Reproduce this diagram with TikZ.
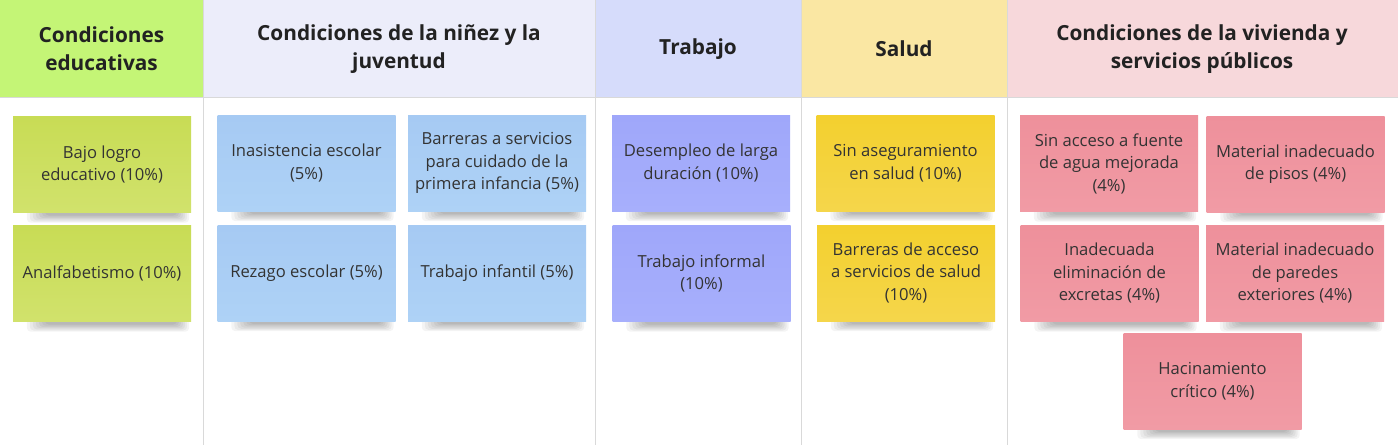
\documentclass[tikz,border=0pt]{standalone}
\usepackage{fontspec}
\setmainfont{Open Sans}
\usetikzlibrary{positioning}
\definecolor{hdrA}{HTML}{C4F576}
\definecolor{hdrB}{HTML}{ECEDFA}
\definecolor{hdrC}{HTML}{D6DCFB}
\definecolor{hdrD}{HTML}{FAE7A3}
\definecolor{hdrE}{HTML}{F7D8DB}
\definecolor{gridc}{HTML}{D9D9D9}
\definecolor{txtc}{HTML}{333333}
\definecolor{hdrtxt}{HTML}{222222}
\definecolor{gTop}{HTML}{C8DC55}\definecolor{gBot}{HTML}{D1E26C}
\definecolor{bTop}{HTML}{A6CAF3}\definecolor{bBot}{HTML}{AED2F6}
\definecolor{pTop}{HTML}{9FA7FA}\definecolor{pBot}{HTML}{A7AFFC}
\definecolor{yTop}{HTML}{F3D02E}\definecolor{yBot}{HTML}{F5D64B}
\definecolor{rTop}{HTML}{EE909B}\definecolor{rBot}{HTML}{F19BA5}
\pgfdeclarelayer{shadowlayer}
\pgfdeclarelayer{bg}
\pgfsetlayers{bg,shadowlayer,main}
\tikzset{
  note/.style={rectangle, minimum width=178pt, minimum height=96pt, inner sep=0pt,
    align=center, text=txtc, font=\fontsize{16.6}{22.5}\selectfont},
  gnote/.style={note, top color=gTop, bottom color=gBot},
  bnote/.style={note, top color=bTop, bottom color=bBot},
  pnote/.style={note, top color=pTop, bottom color=pBot},
  ynote/.style={note, top color=yTop, bottom color=yBot},
  rnote/.style={note, top color=rTop, bottom color=rBot},
  hdr/.style={align=center, text=hdrtxt, font=\fontsize{20.8}{28}\selectfont\bfseries},
  gridline/.style={draw=gridc, line width=1pt}
}
\begin{document}
\begin{tikzpicture}[x=1pt,y=-1pt]
\useasboundingbox (0,0) rectangle (1398,445);
\begin{pgfonlayer}{bg}
\fill[white] (0,0) rectangle (1398,445);
\fill[hdrA] (0,0) rectangle (203,97);
\fill[hdrB] (203,0) rectangle (595,97);
\fill[hdrC] (595,0) rectangle (801,97);
\fill[hdrD] (801,0) rectangle (1007,97);
\fill[hdrE] (1007,0) rectangle (1398,97);
\draw[gridline] (0,97.5) -- (1398,97.5);
\foreach \gx in {203,595,801,1007} \draw[gridline] (\gx,0) -- (\gx,445);
\end{pgfonlayer}

% headers
\node[hdr] (h1) at (101.5,49) {Condiciones\\educativas};
\node[hdr] (h2) at (399,49) {Condiciones de la niñez y la\\juventud};
\node[hdr] (h3) at (698,49) {Trabajo};
\node[hdr] (h4) at (904,49) {Salud};
\node[hdr] (h5) at (1202,49) {Condiciones de la vivienda y\\servicios públicos};

% notes
\node[gnote] (n1) at (102,164.5) {Bajo logro\\educativo (10\%)};
\node[gnote] (n2) at (102,273.5) {Analfabetismo (10\%)};
\node[bnote] (n3) at (306.5,163) {Inasistencia escolar\\(5\%)};
\node[bnote] (n4) at (497,163) {Barreras a servicios\\para cuidado de la\\primera infancia (5\%)};
\node[bnote] (n5) at (306.5,273) {Rezago escolar (5\%)};
\node[bnote] (n6) at (497,273) {Trabajo infantil (5\%)};
\node[pnote] (n7) at (701,163) {Desempleo de larga\\duración (10\%)};
\node[pnote] (n8) at (701.5,273.5) {Trabajo informal\\(10\%)};
\node[ynote] (n9) at (905.5,163) {Sin aseguramiento\\en salud (10\%)};
\node[ynote] (n10) at (906,273) {Barreras de acceso\\a servicios de salud\\(10\%)};
\node[rnote] (n11) at (1109,163.5) {Sin acceso a fuente\\de agua mejorada\\(4\%)};
\node[rnote] (n12) at (1295.5,164) {Material inadecuado\\de pisos (4\%)};
\node[rnote] (n13) at (1109.5,273.5) {Inadecuada\\eliminación de\\excretas (4\%)};
\node[rnote] (n14) at (1295,273.5) {Material inadecuado\\de paredes\\exteriores (4\%)};
\node[rnote] (n15) at (1212.5,381) {Hacinamiento\\crítico (4\%)};

% shadows
\begin{pgfonlayer}{shadowlayer}
\foreach \n in {n1,n2,n3,n4,n5,n6,n7,n8,n9,n10,n11,n12,n13,n14,n15}{
  \foreach \i in {0,1,2,3,4,5,6}{
    \fill[black, opacity=0.045, rounded corners=4pt]
      ([xshift={14+3*\i}, yshift={3}]\n.south west) rectangle
      ([xshift={-2-2*\i}, yshift={-10+1.2*\i}]\n.south east);
  }
}
\end{pgfonlayer}
\end{tikzpicture}
\end{document}
